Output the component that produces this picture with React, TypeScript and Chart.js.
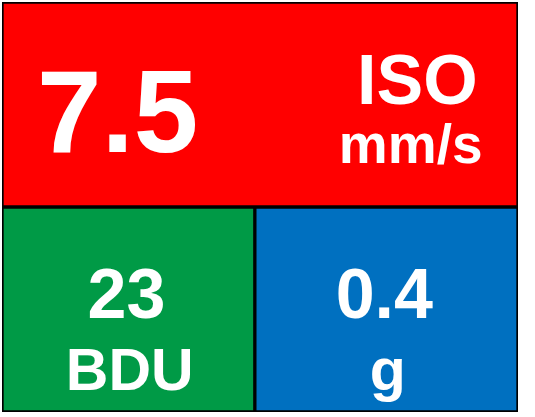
import { useEffect, useRef } from 'react';
import { Chart, registerables, Plugin } from 'chart.js';

Chart.register(...registerables);

// rows of the panel (category axis, hidden)
const rows = ['top', 'bottom'];

// one tile per reading
const tileRows = ['top', 'bottom', 'bottom'];
const tileStart = [0, 0, 0.98];
const tileEnd = [2, 0.98, 2];
const tileValues = [7.5, 23, 0.4];
const tileUnits = [['ISO', 'mm/s'], ['BDU'], ['g']];
const tileColors = ['#FF0000', '#009A46', '#0070C0'];

const FONT = "'Liberation Sans', Arial, Helvetica, sans-serif";

const tileText: Plugin<'bar'> = {
  id: 'tileText',
  afterDatasetsDraw(chart) {
    const ctx = chart.ctx;
    const meta = chart.getDatasetMeta(0);
    ctx.save();
    ctx.fillStyle = '#FFFFFF';
    ctx.textAlign = 'center';
    ctx.textBaseline = 'alphabetic';
    meta.data.forEach((el, i) => {
      const { x, y, base, height } = el.getProps(['x', 'y', 'base', 'height'], true) as any;
      const left = Math.min(x, base);
      const w = Math.abs(x - base);
      const top = y - height / 2;
      const h = height;
      const value = String(tileValues[i]);
      const units = tileUnits[i];

      if (w > 1.5 * h) {
        // wide tile: big value on the left, units stacked on the right
        ctx.font = `bold 116px ${FONT}`;
        ctx.fillText(value, left + 0.224 * w, top + 0.732 * h);
        ctx.font = `bold 70px ${FONT}`;
        ctx.fillText(units[0], left + 0.805 * w, top + 0.498 * h);
        if (units[1]) {
          ctx.font = `bold 55px ${FONT}`;
          ctx.fillText(units[1], left + 0.792 * w, top + 0.785 * h);
        }
      } else {
        ctx.font = `bold 70px ${FONT}`;
        ctx.fillText(value, left + 0.492 * w, top + 0.54 * h);
        ctx.font = `bold 59px ${FONT}`;
        ctx.fillText(units[0], left + 0.505 * w, top + 0.895 * h);
      }
    });
    ctx.restore();
  },
};

export default function App() {
  const chartRef = useRef<HTMLCanvasElement>(null);
  const chartInstance = useRef<Chart | null>(null);

  useEffect(() => {
    if (!chartRef.current) return;

    if (chartInstance.current) {
      chartInstance.current.destroy();
    }

    const ctx = chartRef.current.getContext('2d');
    if (!ctx) return;

    chartInstance.current = new Chart(ctx, {
      type: 'bar',
      data: {
        labels: rows,
        datasets: [
          {
            label: 'Readings',
            data: tileRows.map((r, i) => ({ y: r, x: [tileStart[i], tileEnd[i]] })) as any,
            backgroundColor: tileColors,
            borderColor: '#000000',
            borderWidth: 2,
            borderSkipped: false,
            categoryPercentage: 1,
            barPercentage: 1,
          },
        ],
      },
      options: {
        indexAxis: 'y',
        animation: false,
        responsive: true,
        maintainAspectRatio: false,
        events: [],
        layout: {
          padding: { left: 2, top: 2, right: 17, bottom: 5 },
        },
        scales: {
          x: { type: 'linear', min: 0, max: 2, display: false },
          y: { type: 'category', display: false },
        },
        plugins: {
          legend: { display: false },
          tooltip: { enabled: false },
        },
      },
      plugins: [tileText],
    });

    return () => {
      if (chartInstance.current) {
        chartInstance.current.destroy();
        chartInstance.current = null;
      }
    };
  }, []);

  return (
    <div style={{ position: 'fixed', left: 0, top: 0, width: 535, height: 417, background: '#FFFFFF' }}>
      <canvas ref={chartRef}></canvas>
    </div>
  );
}
